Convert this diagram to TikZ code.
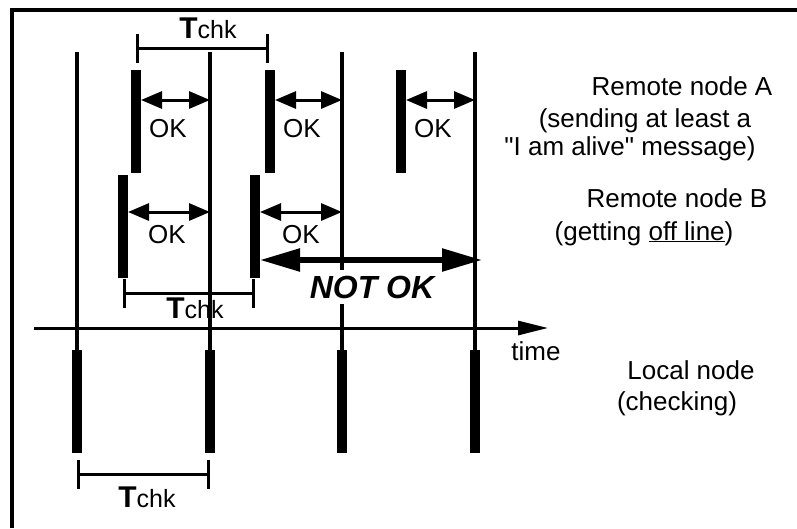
\documentclass[tikz,border=0pt]{standalone}
\usepackage{fontspec}
\setmainfont{Liberation Sans}
\usetikzlibrary{arrows.meta}
\newcommand{\Tchk}{{\fontsize{30}{30}\selectfont\bfseries T}{\fontsize{25}{25}\selectfont chk}}

\begin{document}
\begin{tikzpicture}[x=1pt,y=-1pt,
  frame/.style={line width=4pt},
  tline/.style={line width=3.5pt},
  bar/.style={line width=10pt},
  okarrow/.style={line width=3pt,{Triangle[length=21pt,width=17pt]}-{Triangle[length=21pt,width=17pt]}},
  notokarrow/.style={line width=5.5pt,{Triangle[length=40pt,width=22pt]}-{Triangle[length=40pt,width=22pt]}},
  period/.style={line width=3pt,{Bar[width=29pt]}-{Bar[width=29pt]}},
  lbl/.style={font=\fontsize{26}{31}\selectfont,inner sep=0pt,anchor=base}]

\useasboundingbox (0,0) rectangle (797,528);

\coordinate (F1) at (12,528);
\coordinate (F2) at (12,10);
\coordinate (F3) at (797,10);
\draw[frame] (F1) -- (F2) -- (F3);

\foreach \x [count=\i] in {77,210,342,475} {
  \coordinate (T\i) at (\x,52);
  \coordinate (C\i) at (\x,350);
  \coordinate (D\i) at (\x,453);
}

\draw[tline] (T1) -- (C1);
\draw[tline] (T2) -- (C2);
\draw[tline] (T3) -- (C3);
\draw[tline] (T4) -- (C4);

\foreach \i in {1,2,3,4} \draw[bar] (C\i) -- (D\i);

\coordinate (X0) at (34,328);
\coordinate (X1) at (548,328);
\draw[line width=3pt,-{Triangle[length=30pt,width=14pt]}] (X0) -- (X1);
\node[lbl] (time) at (536,360) {time};

% remote node A
\foreach \x [count=\i] in {136,270,401} {
  \coordinate (A\i) at (\x,70);
  \coordinate (a\i) at (\x,173);
  \draw[bar] (A\i) -- (a\i);
}
\coordinate (A1r) at (141,100);
\coordinate (A2r) at (275,100);
\coordinate (A3r) at (406,100);
\coordinate (A1e) at (210,100);
\coordinate (A2e) at (342,100);
\coordinate (A3e) at (475,100);
\draw[okarrow] (A1r) -- (A1e);
\draw[okarrow] (A2r) -- (A2e);
\draw[okarrow] (A3r) -- (A3e);
\node[lbl] (ok1) at (168,137) {OK};
\node[lbl] (ok2) at (302,137) {OK};
\node[lbl] (ok3) at (433,137) {OK};

% remote node B
\foreach \x [count=\i] in {123,255} {
  \coordinate (B\i) at (\x,175);
  \coordinate (b\i) at (\x,278);
  \draw[bar] (B\i) -- (b\i);
}
\coordinate (B1r) at (128,212);
\coordinate (B2r) at (260,212);
\coordinate (B1e) at (210,212);
\coordinate (B2e) at (342,212);
\draw[okarrow] (B1r) -- (B1e);
\draw[okarrow] (B2r) -- (B2e);
\node[lbl] (ok4) at (167,243) {OK};
\node[lbl] (ok5) at (301,243) {OK};

\coordinate (N0) at (260,260);
\coordinate (N1) at (482,260);
\draw[notokarrow] (N0) -- (N1);
\node[lbl,font=\fontsize{32}{32}\selectfont\bfseries\itshape,fill=white,inner ysep=6pt] (notok) at (372,298) {NOT OK};

% check periods
\coordinate (P1) at (136,48);
\coordinate (P2) at (269,48);
\draw[period] (P1) -- (P2);
\node[lbl] (tchk1) at (208,38) {\Tchk};

\coordinate (Q1) at (123,293);
\coordinate (Q2) at (255,293);
\draw[period] (Q1) -- (Q2);
\node[lbl] (tchk2) at (195,318) {\Tchk};

\coordinate (R1) at (77,474);
\coordinate (R2) at (210,474);
\draw[period] (R1) -- (R2);
\node[lbl] (tchk3) at (147,507) {\Tchk};

% legend
\node[lbl] (remA) at (682,95) {Remote node A};
\node[lbl] (remA2) at (645,127) {(sending at least a};
\node[lbl] (remA3) at (630,155) {\textquotedbl I am alive\textquotedbl{} message)};
\node[lbl] (remB) at (677,207) {Remote node B};
\node[lbl] (remB2) at (644,240) {(getting \underline{off line})};
\node[lbl] (loc) at (691,379) {Local node};
\node[lbl] (loc2) at (677,410) {(checking)};
\end{tikzpicture}
\end{document}
